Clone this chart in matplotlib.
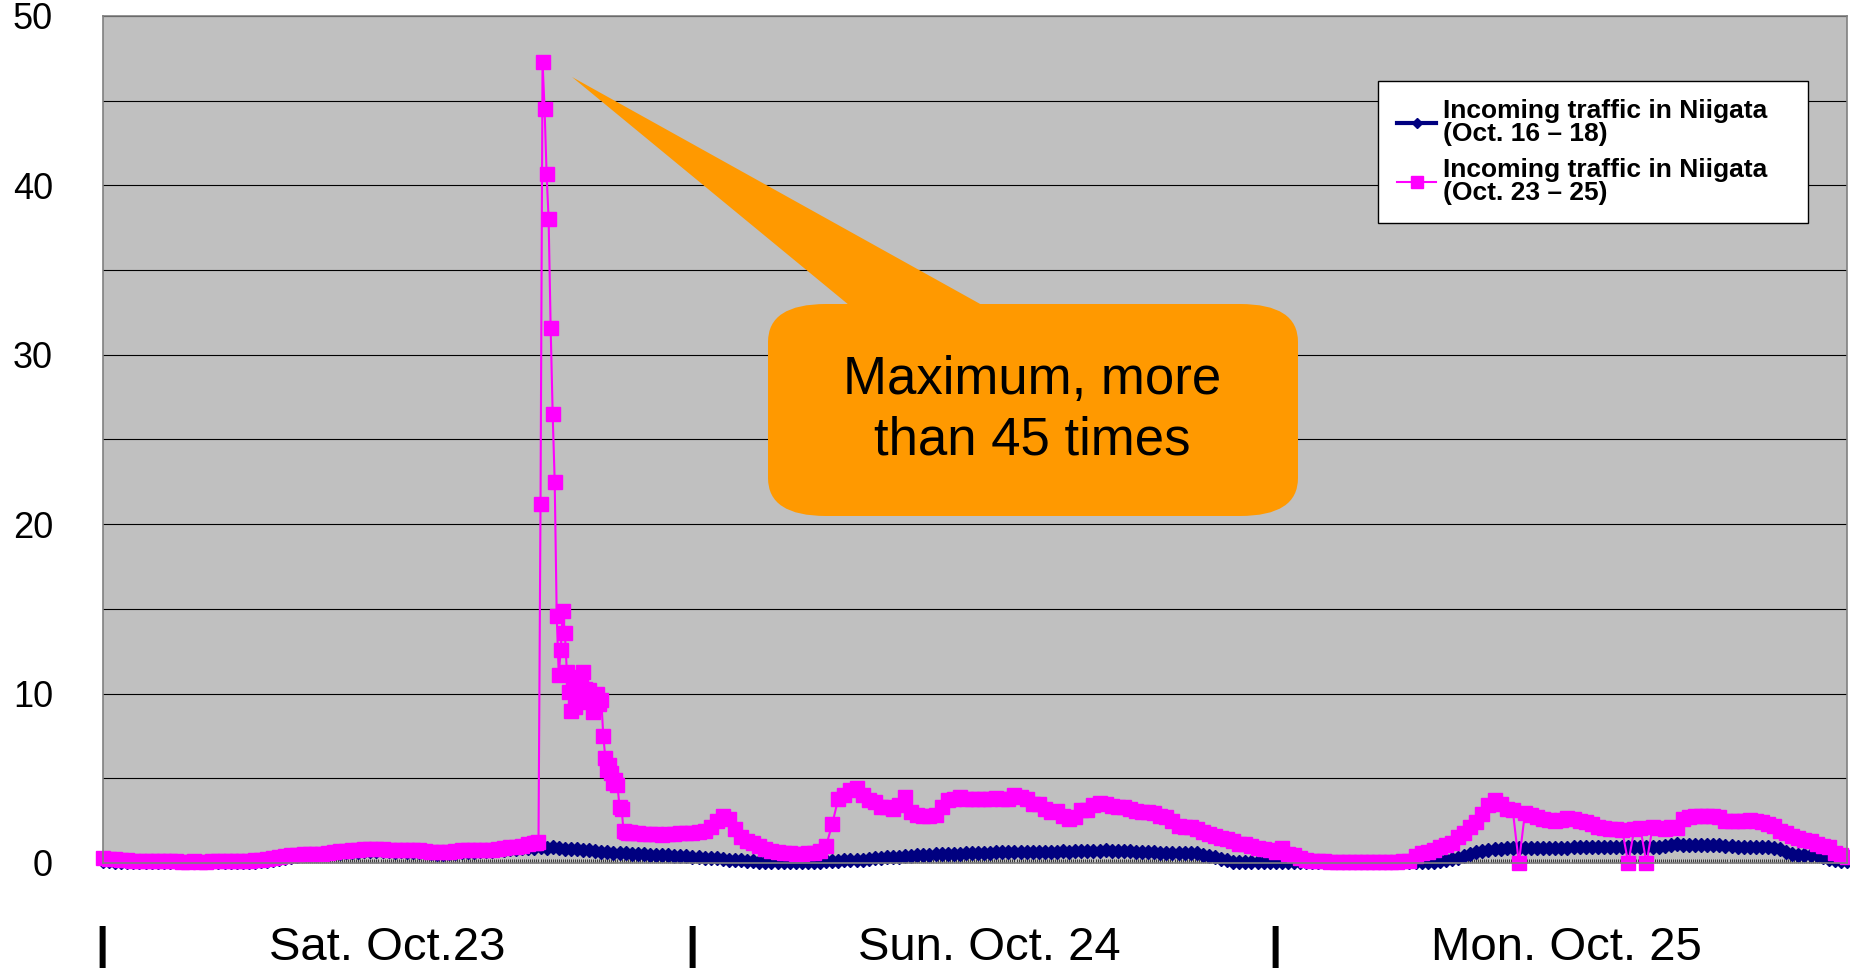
import numpy as np
import matplotlib
matplotlib.use('Agg')
import matplotlib.pyplot as plt
from matplotlib.patches import FancyBboxPatch, Polygon
from matplotlib.transforms import IdentityTransform, blended_transform_factory
from matplotlib.ticker import MultipleLocator

plt.rcParams['font.family'] = ['Liberation Sans', 'DejaVu Sans']

# Oct 23 - 25, pink series. 15 min steps, except 5 min steps around the quake (17:50 - 21:45)
pink_pre = [
    0.28, 0.26, 0.24, 0.20, 0.17, 0.14, 0.12, 0.11,
    0.10, 0.10, 0.09, 0.10, 0.09, 0.08, 0.08, 0.09,
    0.08, 0.08, 0.09, 0.09, 0.10, 0.10, 0.11, 0.12,
    0.13, 0.16, 0.20, 0.25, 0.30, 0.36, 0.42, 0.47,
    0.50, 0.52, 0.53, 0.55, 0.56, 0.60, 0.64, 0.68,
    0.72, 0.75, 0.77, 0.80, 0.83, 0.82, 0.80, 0.78,
    0.77, 0.78, 0.76, 0.77, 0.75, 0.70, 0.65, 0.63,
    0.64, 0.66, 0.70, 0.74, 0.76, 0.77, 0.78, 0.77,
    0.79, 0.85, 0.90, 0.93, 0.95, 1.00, 1.10, 1.20,
]
pink_quake = [
    1.20, 1.25, 21.2, 47.3, 44.5, 40.7, 38.0, 31.6, 26.5, 22.5,
    14.6, 11.1, 12.6, 14.9, 13.6, 11.3, 10.1, 9.0, 10.9, 9.2,
    11.0, 9.9, 10.5, 11.3, 10.3, 9.5, 10.2, 9.6, 8.9, 9.6,
    10.0, 9.4, 9.6, 7.5, 6.2, 5.5, 5.8, 5.3, 4.7, 4.9,
    4.6, 3.3, 3.2, 1.90, 1.85, 1.80, 1.85, 1.75,
]
pink_post = [
    1.75, 1.70, 1.72, 1.70, 1.68, 1.70, 1.72, 1.75,
    1.78, 1.80, 1.85, 1.90, 2.10, 2.50, 2.75, 2.60,
    2.00, 1.55, 1.30, 1.20, 1.00, 0.85, 0.73, 0.65,
    0.60, 0.57, 0.55, 0.56, 0.57, 0.60, 0.70, 1.00,
    2.30, 3.80, 4.00, 4.30, 4.40, 4.00, 3.70, 3.60,
    3.30, 3.30, 3.20, 3.40, 3.90, 3.00, 2.85, 2.80,
    2.80, 2.85, 3.30, 3.70, 3.80, 3.90, 3.80, 3.75,
    3.80, 3.75, 3.80, 3.85, 3.80, 3.75, 4.00, 3.90,
    3.80, 3.50, 3.50, 3.20, 3.00, 3.05, 2.80, 2.60,
    2.70, 3.10, 3.15, 3.40, 3.55, 3.50, 3.35, 3.30,
    3.30, 3.20, 3.05, 3.00, 3.00, 2.95, 2.75, 2.70,
    2.50, 2.20, 2.15, 2.10, 2.00, 1.85, 1.70, 1.60,
    1.50, 1.40, 1.30, 1.15, 1.10, 1.00, 0.90, 0.83,
    0.75, 0.65, 0.90, 0.55, 0.45, 0.30, 0.20, 0.14,
    0.12, 0.10, 0.08, 0.07, 0.06, 0.06, 0.06, 0.05,
    0.05, 0.06, 0.06, 0.06, 0.07, 0.08, 0.10, 0.14,
    0.40, 0.60, 0.65, 0.75, 0.96, 1.05, 1.20, 1.55,
    1.80, 2.10, 2.40, 2.90, 3.40, 3.70, 3.50, 3.20,
    3.10, 0.00, 2.95, 2.85, 2.70, 2.60, 2.55, 2.50,
    2.55, 2.65, 2.60, 2.45, 2.40, 2.30, 2.15, 2.05,
    2.00, 2.00, 1.95, 0.00, 2.00, 2.05, 0.00, 2.10,
    2.05, 2.00, 2.10, 2.05, 2.60, 2.70, 2.75, 2.80,
    2.75, 2.80, 2.70, 2.50, 2.50, 2.45, 2.50, 2.55,
    2.45, 2.40, 2.30, 2.20, 1.90, 1.80, 1.60, 1.45,
    1.35, 1.30, 1.10, 1.00, 0.95, 0.60, 0.45, 0.35,
]
# Oct 16 - 18, navy series, 15 min steps
navy = [
    0.10, 0.10, 0.08, 0.07, 0.06, 0.05, 0.05, 0.05,
    0.05, 0.04, 0.05, 0.04, 0.04, 0.05, 0.04, 0.04,
    0.04, 0.04, 0.05, 0.04, 0.05, 0.05, 0.05, 0.06,
    0.06, 0.08, 0.10, 0.14, 0.20, 0.26, 0.32, 0.38,
    0.42, 0.45, 0.47, 0.50, 0.52, 0.55, 0.58, 0.60,
    0.62, 0.65, 0.67, 0.68, 0.70, 0.70, 0.68, 0.68,
    0.67, 0.68, 0.66, 0.67, 0.65, 0.62, 0.58, 0.55,
    0.55, 0.58, 0.60, 0.63, 0.65, 0.67, 0.68, 0.68,
    0.70, 0.74, 0.78, 0.82, 0.84, 0.86, 0.88, 0.90,
    0.92, 0.90, 0.93, 0.88, 0.85, 0.82, 0.80, 0.78,
    0.74, 0.70, 0.65, 0.62, 0.60, 0.60, 0.58, 0.56,
    0.55, 0.52, 0.50, 0.48, 0.47, 0.45, 0.43, 0.42,
    0.40, 0.36, 0.34, 0.32, 0.30, 0.27, 0.24, 0.20,
    0.18, 0.16, 0.14, 0.12, 0.08, 0.05, 0.04, 0.03,
    0.03, 0.03, 0.04, 0.04, 0.05, 0.06, 0.08, 0.10,
    0.12, 0.14, 0.15, 0.17, 0.18, 0.20, 0.23, 0.27,
    0.30, 0.33, 0.35, 0.37, 0.40, 0.43, 0.46, 0.48,
    0.50, 0.52, 0.53, 0.54, 0.55, 0.56, 0.57, 0.58,
    0.60, 0.60, 0.61, 0.62, 0.62, 0.63, 0.63, 0.64,
    0.64, 0.65, 0.66, 0.66, 0.66, 0.67, 0.68, 0.67,
    0.68, 0.70, 0.72, 0.72, 0.73, 0.74, 0.73, 0.72,
    0.70, 0.68, 0.66, 0.64, 0.62, 0.62, 0.61, 0.60,
    0.60, 0.60, 0.59, 0.60, 0.58, 0.50, 0.42, 0.36,
    0.25, 0.15, 0.08, 0.06, 0.05, 0.05, 0.05, 0.05,
    0.04, 0.04, 0.03, 0.04, 0.03, 0.03, 0.04, 0.03,
    0.03, 0.03, 0.03, 0.04, 0.03, 0.03, 0.03, 0.03,
    0.03, 0.04, 0.03, 0.03, 0.04, 0.04, 0.04, 0.05,
    0.05, 0.06, 0.07, 0.08, 0.10, 0.18, 0.25, 0.30,
    0.40, 0.55, 0.65, 0.72, 0.78, 0.82, 0.85, 0.87,
    0.88, 0.87, 0.88, 0.86, 0.87, 0.88, 0.88, 0.87,
    0.88, 0.90, 0.92, 0.92, 0.93, 0.92, 0.93, 0.92,
    0.93, 0.94, 0.93, 0.92, 0.94, 0.93, 0.95, 0.96,
    0.96, 1.00, 1.05, 1.10, 1.08, 1.06, 1.07, 1.05,
    1.06, 1.04, 1.05, 1.02, 1.00, 0.97, 0.95, 0.94,
    0.93, 0.92, 0.93, 0.90, 0.80, 0.65, 0.55, 0.50,
    0.48, 0.50, 0.45, 0.38, 0.25, 0.18, 0.14, 0.12,
]
labels = ['Incoming traffic in Niigata   \n(Oct. 16 \u2013 18)',
          'Incoming traffic in Niigata   \n(Oct. 23 \u2013 25)']
day_labels = ['Sat. Oct.23', 'Sun. Oct. 24', 'Mon. Oct. 25']
day_label_hours = [11.7, 36.45, 60.2]
day_sep_hours = [-0.05, 24.25, 48.2]
note = 'Maximum, more\nthan 45 times'

# time axes in hours from Sat 0:00
t_pre = np.arange(len(pink_pre)) * 0.25
t_quake = 17 + 50/60 + np.arange(len(pink_quake)) / 12
t_post = 22.0 + np.arange(len(pink_post)) * 0.25
pink_t = np.concatenate([t_pre, t_quake, t_post])
pink_v = np.concatenate([pink_pre, pink_quake, pink_post])
navy_t = np.arange(len(navy)) * 0.25

W, H = 1850, 968
fig = plt.figure(figsize=(W/100, H/100), dpi=100)
ax = fig.add_axes([103/W, 1-863/H, (1847-103)/W, (863-16)/H])
ax.set_facecolor('#C0C0C0')

ax.plot(navy_t, navy, color='#000080', lw=3, marker='D', ms=7,
        clip_on=False, label=labels[0])
ax.plot(pink_t, pink_v, color='#FF00FF', lw=1.5, marker='s', ms=10,
        clip_on=False, label=labels[1])

ax.set_xlim(0, navy_t[-1])
ax.set_ylim(0, 50)
ax.yaxis.set_major_locator(MultipleLocator(10))
ax.yaxis.set_minor_locator(MultipleLocator(5))
ax.grid(which='both', axis='y', color='black', lw=0.8)
ax.set_axisbelow(True)
ax.tick_params(axis='y', which='both', length=0, pad=36, labelsize=26)
# excel style category ticks, one per 5 minutes
ax.xaxis.set_major_locator(MultipleLocator(1/12))
ax.tick_params(axis='x', which='major', direction='in', length=3, width=0.6,
               color='#202020', labelbottom=False)
for s in ax.spines.values():
    s.set_color('#808080')
    s.set_linewidth(1.2)

leg = ax.legend(loc='upper right', bbox_to_anchor=(0.9776, 0.9233), borderaxespad=0,
                fancybox=False, framealpha=1, edgecolor='black',
                prop={'weight': 'bold', 'size': 19}, handlelength=1.5,
                handletextpad=0.25, labelspacing=0.43, borderpad=0.7,
                markerscale=0.8)
leg.get_frame().set_linewidth(1.0)
for txt in leg.get_texts():
    txt.set_linespacing(0.95)

# callout (pixel coords, origin bottom left)
box = FancyBboxPatch((768, H-516), 530, 212, boxstyle='round,pad=0,rounding_size=58',
                     mutation_aspect=0.655, transform=IdentityTransform(),
                     fc='#FF9900', ec='none')
tail = Polygon([(572, H-77), (855, H-310), (991, H-310)], closed=True,
               transform=IdentityTransform(), fc='#FF9900', ec='none')
fig.add_artist(tail)
fig.add_artist(box)
fig.text(1032/W, 1-410/H, note, ha='center', va='center', fontsize=38, linespacing=1.28)

tr = blended_transform_factory(ax.transData, fig.transFigure)
for h, lab in zip(day_label_hours, day_labels):
    ax.text(h, 1-960/H, lab, transform=tr, ha='center', va='baseline',
            fontsize=34, clip_on=False)
for h in day_sep_hours:
    ax.text(h, 1-960/H, '|', transform=tr, ha='center', va='baseline',
            fontsize=34, fontweight='bold', clip_on=False)

fig.savefig('out.png', dpi=100)
